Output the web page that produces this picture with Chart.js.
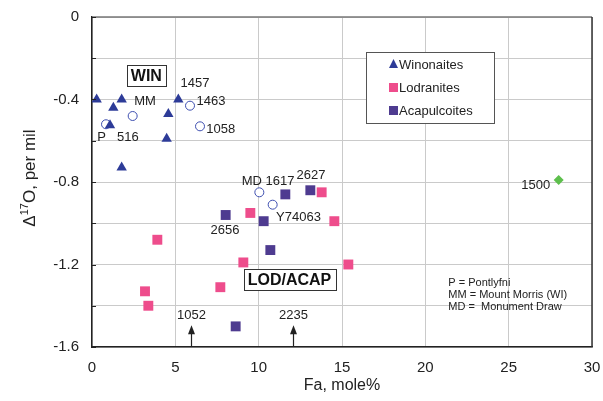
<!DOCTYPE html>
<html>
<head>
<meta charset="utf-8">
<script src="https://cdn.jsdelivr.net/npm/chart.js@4.4.1/dist/chart.umd.min.js"></script>
<style>
  html, body { margin: 0; padding: 0; background: #fff; }
  #wrap { width: 603px; height: 401px; }
</style>
</head>
<body>
<div id="wrap"><canvas id="oxygenChart" width="603" height="401"></canvas></div>
<script>
// Fa (mole%) vs Δ17O (per mil)
const winonaitesFa = [0.28, 1.78, 1.28, 1.08, 5.18, 4.58, 4.48, 1.78];
const winonaitesD17O = [-0.40, -0.40, -0.44, -0.525, -0.40, -0.47, -0.59, -0.73];

const lodranitesFa = [13.78, 9.5, 14.54, 9.08, 15.38, 7.7, 3.92, 3.18, 3.38];
const lodranitesD17O = [-0.85, -0.95, -0.99, -1.19, -1.20, -1.31, -1.08, -1.33, -1.40];

const acapulcoitesFa = [11.6, 13.1, 8.02, 10.3, 10.7, 8.62];
const acapulcoitesD17O = [-0.86, -0.84, -0.96, -0.99, -1.13, -1.50];

// ungrouped samples (open circles): P, MM, 1463, 1058, MD, Y74063
const otherFa = [0.84, 2.44, 5.88, 6.48, 10.04, 10.84];
const otherD17O = [-0.52, -0.48, -0.43, -0.53, -0.85, -0.91];

const sample1500Fa = [28.0];
const sample1500D17O = [-0.79];

// sample names written next to the points (text anchor in data units)
const pointNames = ['1457', 'MM', '1463', 'P', '516', '1058', 'MD 1617', '2627', 'Y74063', '2656', '1500'];
const pointNameFa = [6.18, 3.18, 7.14, 0.58, 2.15, 7.73, 10.56, 13.14, 12.39, 7.98, 26.63];
const pointNameD17O = [-0.323, -0.407, -0.407, -0.585, -0.585, -0.546, -0.797, -0.768, -0.974, -1.034, -0.816];

// off-scale samples marked with arrows at the bottom
const arrowNames = ['1052', '2235'];
const arrowFa = [5.94, 12.04];
const arrowTipD17O = -1.495;

const groupNames = ['WIN', 'LOD/ACAP'];
const groupFa = [3.26, 11.85];
const groupD17O = [-0.283, -1.274];

const noteLines = ['P = Pontlyfni', 'MM = Mount Morris (WI)', 'MD =  Monument Draw'];

const yTicks = [0, -0.2, -0.4, -0.6, -0.8, -1.0, -1.2, -1.4, -1.6];

const toPoints = (xs, ys) => xs.map((v, i) => ({x: v, y: ys[i]}));

const blue = '#2D3B98';
const pink = '#EE4D8C';
const purple = '#4E3B90';
const fontFamily = 'Arial, "Liberation Sans", sans-serif';

const decorations = {
  id: 'decorations',
  afterDraw(chart) {
    const {ctx, chartArea: a, scales: {x, y}} = chart;
    ctx.save();

    // frame: top and right
    ctx.lineWidth = 1.5;
    ctx.strokeStyle = '#777';
    ctx.beginPath(); ctx.moveTo(a.left, a.top); ctx.lineTo(a.right, a.top); ctx.stroke();
    ctx.strokeStyle = '#333';
    ctx.beginPath(); ctx.moveTo(a.right, a.top); ctx.lineTo(a.right, a.bottom); ctx.stroke();

    // small inward ticks on y axis
    ctx.strokeStyle = '#222';
    ctx.lineWidth = 1;
    yTicks.forEach(v => {
      const py = Math.round(y.getPixelForValue(v)) + 0.5;
      ctx.beginPath(); ctx.moveTo(a.left, py); ctx.lineTo(a.left + 4, py); ctx.stroke();
    });

    // y axis title with superscript 17
    ctx.save();
    ctx.translate(30, (a.top + a.bottom) / 2 - 4);
    ctx.rotate(-Math.PI / 2);
    ctx.fillStyle = '#222';
    ctx.textBaseline = 'middle';
    const big = '17px ' + fontFamily;
    const small = '11px ' + fontFamily;
    ctx.font = big;
    const w1 = ctx.measureText('\u0394').width;
    const w3 = ctx.measureText('O, per mil').width;
    ctx.font = small;
    const w2 = ctx.measureText('17').width;
    let tx = -(w1 + w2 + w3) / 2;
    ctx.textAlign = 'left';
    ctx.font = big; ctx.fillText('\u0394', tx, 0); tx += w1;
    ctx.font = small; ctx.fillText('17', tx, -5); tx += w2;
    ctx.font = big; ctx.fillText('O, per mil', tx, 0);
    ctx.restore();

    // sample names
    ctx.fillStyle = '#222';
    ctx.font = '13px ' + fontFamily;
    ctx.textAlign = 'center';
    ctx.textBaseline = 'middle';
    pointNames.forEach((t, i) => {
      ctx.fillText(t, x.getPixelForValue(pointNameFa[i]), y.getPixelForValue(pointNameD17O[i]));
    });

    // arrows for off-scale samples
    arrowNames.forEach((t, i) => {
      const px = Math.round(x.getPixelForValue(arrowFa[i])) + 0.5;
      const tip = y.getPixelForValue(arrowTipD17O);
      ctx.strokeStyle = '#222';
      ctx.lineWidth = 1.2;
      ctx.beginPath(); ctx.moveTo(px, a.bottom); ctx.lineTo(px, tip + 6); ctx.stroke();
      ctx.beginPath();
      ctx.moveTo(px, tip); ctx.lineTo(px - 3.5, tip + 9); ctx.lineTo(px + 3.5, tip + 9);
      ctx.closePath(); ctx.fill();
      ctx.fillText(t, px, tip - 10);
    });

    // group boxes
    ctx.font = 'bold 16px ' + fontFamily;
    groupNames.forEach((t, i) => {
      const cx = x.getPixelForValue(groupFa[i]);
      const cy = y.getPixelForValue(groupD17O[i]);
      const w = ctx.measureText(t).width + 8;
      const h = 21;
      ctx.fillStyle = '#fff';
      ctx.fillRect(cx - w / 2, cy - h / 2, w, h);
      ctx.strokeStyle = '#333';
      ctx.lineWidth = 1;
      ctx.strokeRect(Math.round(cx - w / 2) + 0.5, Math.round(cy - h / 2) + 0.5, Math.round(w), h);
      ctx.fillStyle = '#111';
      ctx.fillText(t, cx, cy + 1);
    });

    // abbreviations note
    ctx.font = '11px ' + fontFamily;
    ctx.textAlign = 'left';
    ctx.fillStyle = '#222';
    const nx = x.getPixelForValue(21.38);
    const ny = y.getPixelForValue(-1.291);
    noteLines.forEach((t, i) => ctx.fillText(t, nx, ny + i * 12));

    // legend
    const lx = 366, ly = 52, lw = 128, lh = 71;
    ctx.fillStyle = '#fff';
    ctx.fillRect(lx, ly, lw, lh);
    ctx.strokeStyle = '#555';
    ctx.lineWidth = 1;
    ctx.strokeRect(lx + 0.5, ly + 0.5, lw, lh);
    const items = chart.data.datasets.slice(0, 3);
    ctx.font = '13px ' + fontFamily;
    items.forEach((ds, i) => {
      const cy = ly + 12 + i * 23;
      const mx = 393.5;
      ctx.fillStyle = ds.backgroundColor;
      if (ds.pointStyle === 'triangle') {
        ctx.beginPath();
        ctx.moveTo(mx, cy - 5); ctx.lineTo(mx + 4.5, cy + 4); ctx.lineTo(mx - 4.5, cy + 4);
        ctx.closePath(); ctx.fill();
      } else {
        ctx.fillRect(mx - 4.5, cy - 4, 9, 9);
      }
      ctx.fillStyle = '#222';
      ctx.fillText(ds.label, 399, cy + 1);
    });

    ctx.restore();
  }
};

new Chart(document.getElementById('oxygenChart').getContext('2d'), {
  type: 'scatter',
  data: {
    datasets: [
      {label: 'Winonaites', data: toPoints(winonaitesFa, winonaitesD17O), pointStyle: 'triangle',
       backgroundColor: blue, borderColor: blue, borderWidth: 0, pointRadius: 6},
      {label: 'Lodranites', data: toPoints(lodranitesFa, lodranitesD17O), pointStyle: 'rect',
       backgroundColor: pink, borderColor: pink, borderWidth: 0, pointRadius: 7},
      {label: 'Acapulcoites', data: toPoints(acapulcoitesFa, acapulcoitesD17O), pointStyle: 'rect',
       backgroundColor: purple, borderColor: purple, borderWidth: 0, pointRadius: 7},
      {label: 'Other', data: toPoints(otherFa, otherD17O), pointStyle: 'circle',
       backgroundColor: '#fff', borderColor: '#3E4FB0', borderWidth: 1, pointRadius: 4.5},
      {label: '1500', data: toPoints(sample1500Fa, sample1500D17O), pointStyle: 'rectRot',
       backgroundColor: '#5DBF4C', borderColor: '#5DBF4C', borderWidth: 0, pointRadius: 5}
    ]
  },
  options: {
    responsive: false,
    animation: false,
    layout: {padding: {top: 17, right: 11, left: 0, bottom: 0}},
    plugins: {legend: {display: false}, tooltip: {enabled: false}},
    scales: {
      x: {
        type: 'linear', min: 0, max: 30,
        ticks: {stepSize: 5, padding: 12, color: '#222', font: {family: fontFamily, size: 15}},
        grid: {color: '#cacaca', drawTicks: false},
        border: {color: '#222', width: 1.5},
        title: {display: true, text: 'Fa, mole%', color: '#222', padding: {top: 0, bottom: 6},
                font: {family: fontFamily, size: 16}},
        afterFit: s => { s.height = 54; s.paddingLeft = 0; s.paddingRight = 0; }
      },
      y: {
        type: 'linear', min: -1.6, max: 0,
        afterBuildTicks: s => { s.ticks = yTicks.slice().reverse().map(v => ({value: v})); },
        ticks: {
          padding: 13, color: '#222', font: {family: fontFamily, size: 15},
          callback: v => {
            const k = Math.round(v / 0.2);
            if (k % 2 !== 0) return '';
            return k === 0 ? '0' : (k * 0.2).toFixed(1);
          }
        },
        grid: {color: '#cacaca', drawTicks: false},
        border: {color: '#222', width: 1.5},
        afterFit: s => { s.width = 92; s.paddingTop = 0; s.paddingBottom = 0; }
      }
    }
  },
  plugins: [decorations]
});
</script>
</body>
</html>
